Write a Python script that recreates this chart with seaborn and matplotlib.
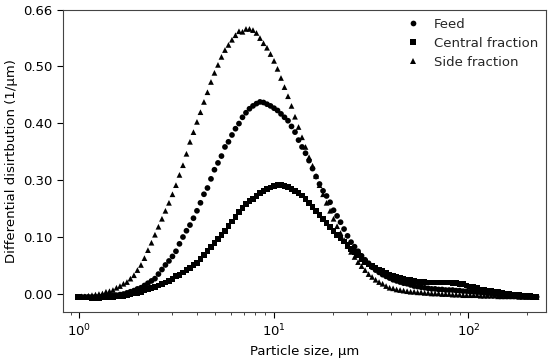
import numpy as np
import pandas as pd
import matplotlib
matplotlib.use("Agg")
import matplotlib.pyplot as plt
import seaborn as sns

# particle size classes, um
SIZES = [0.982, 1.024, 1.067, 1.112, 1.160, 1.209, 1.260, 1.313, 1.369, 1.427,
         1.487, 1.550, 1.616, 1.684, 1.755, 1.829, 1.907, 1.987, 2.072, 2.159,
         2.250, 2.346, 2.445, 2.548, 2.656, 2.768, 2.886, 3.008, 3.135, 3.268,
         3.406, 3.550, 3.700, 3.857, 4.020, 4.190, 4.367, 4.552, 4.745, 4.945,
         5.155, 5.373, 5.600, 5.837, 6.084, 6.342, 6.610, 6.890, 7.181, 7.485,
         7.802, 8.132, 8.476, 8.835, 9.209, 9.600, 10.01, 10.43, 10.87, 11.33,
         11.81, 12.31, 12.83, 13.38, 13.94, 14.53, 15.15, 15.79, 16.46, 17.15,
         17.88, 18.64, 19.43, 20.25, 21.11, 22.00, 22.93, 23.90, 24.91, 25.97,
         27.07, 28.21, 29.41, 30.65, 31.95, 33.30, 34.71, 36.18, 37.71, 39.31,
         40.97, 42.71, 44.51, 46.40, 48.36, 50.41, 52.54, 54.76, 57.08, 59.50,
         62.01, 64.64, 67.37, 70.22, 73.20, 76.29, 79.52, 82.89, 86.40, 90.06,
         93.87, 97.84, 102.0, 106.3, 110.8, 115.5, 120.3, 125.4, 130.8, 136.3,
         142.1, 148.1, 154.3, 160.9, 167.7, 174.8, 182.2, 189.9, 197.9, 206.3,
         215.0, 224.1]

FEED = [-0.005, -0.005, -0.005, -0.005, -0.005, -0.005, -0.005, -0.004, -0.004, -0.004,
        -0.003, -0.002, -0.001, 0.000, 0.002, 0.004, 0.006, 0.009, 0.011, 0.015,
        0.019, 0.023, 0.027, 0.035, 0.043, 0.051, 0.058, 0.066, 0.075, 0.088,
        0.100, 0.111, 0.121, 0.133, 0.146, 0.160, 0.175, 0.186, 0.202, 0.218,
        0.230, 0.242, 0.258, 0.267, 0.279, 0.290, 0.299, 0.310, 0.318, 0.325,
        0.330, 0.334, 0.337, 0.336, 0.333, 0.330, 0.326, 0.322, 0.316, 0.310,
        0.304, 0.294, 0.284, 0.270, 0.258, 0.247, 0.234, 0.220, 0.206, 0.193,
        0.181, 0.172, 0.161, 0.147, 0.137, 0.126, 0.114, 0.102, 0.091, 0.083,
        0.075, 0.067, 0.060, 0.054, 0.047, 0.042, 0.038, 0.034, 0.031, 0.028,
        0.025, 0.023, 0.021, 0.019, 0.018, 0.016, 0.014, 0.013, 0.012, 0.011,
        0.010, 0.009, 0.009, 0.008, 0.008, 0.007, 0.007, 0.007, 0.006, 0.006,
        0.005, 0.005, 0.004, 0.004, 0.003, 0.003, 0.002, 0.001, 0.001, 0.000,
        -0.001, -0.001, -0.002, -0.002, -0.003, -0.003, -0.004, -0.004, -0.005, -0.005,
        -0.005, -0.005]

CENTRAL = [-0.005, -0.006, -0.006, -0.006, -0.007, -0.007, -0.007, -0.006, -0.006, -0.006,
           -0.005, -0.004, -0.003, -0.003, -0.002, -0.001, 0.001, 0.002, 0.004, 0.006,
           0.009, 0.011, 0.012, 0.015, 0.017, 0.020, 0.023, 0.026, 0.031, 0.034,
           0.038, 0.042, 0.046, 0.051, 0.055, 0.061, 0.068, 0.075, 0.082, 0.090,
           0.096, 0.103, 0.111, 0.119, 0.127, 0.135, 0.144, 0.151, 0.158, 0.163,
           0.167, 0.172, 0.177, 0.181, 0.184, 0.187, 0.189, 0.191, 0.191, 0.190,
           0.188, 0.184, 0.181, 0.177, 0.173, 0.167, 0.160, 0.153, 0.146, 0.138,
           0.131, 0.124, 0.118, 0.111, 0.104, 0.098, 0.092, 0.086, 0.079, 0.074,
           0.068, 0.062, 0.056, 0.052, 0.049, 0.046, 0.043, 0.040, 0.037, 0.034,
           0.032, 0.030, 0.028, 0.026, 0.025, 0.024, 0.023, 0.022, 0.021, 0.021,
           0.020, 0.020, 0.020, 0.020, 0.020, 0.020, 0.020, 0.019, 0.019, 0.018,
           0.017, 0.015, 0.013, 0.012, 0.010, 0.008, 0.007, 0.006, 0.005, 0.004,
           0.003, 0.002, 0.001, 0.000, -0.001, -0.001, -0.002, -0.003, -0.004, -0.004,
           -0.005, -0.005]

SIDE = [-0.005, -0.004, -0.004, -0.003, -0.002, -0.001, 0.000, 0.001, 0.004, 0.005,
        0.007, 0.011, 0.014, 0.018, 0.021, 0.027, 0.033, 0.042, 0.051, 0.063,
        0.077, 0.090, 0.104, 0.118, 0.132, 0.146, 0.160, 0.175, 0.191, 0.209,
        0.226, 0.246, 0.267, 0.284, 0.302, 0.319, 0.337, 0.354, 0.372, 0.388,
        0.402, 0.416, 0.428, 0.437, 0.446, 0.454, 0.461, 0.460, 0.465, 0.465,
        0.463, 0.458, 0.449, 0.440, 0.432, 0.421, 0.409, 0.395, 0.379, 0.363,
        0.347, 0.330, 0.311, 0.293, 0.275, 0.258, 0.240, 0.225, 0.207, 0.191,
        0.175, 0.160, 0.146, 0.132, 0.119, 0.107, 0.095, 0.084, 0.074, 0.065,
        0.056, 0.049, 0.042, 0.035, 0.030, 0.025, 0.021, 0.018, 0.014, 0.011,
        0.010, 0.008, 0.007, 0.006, 0.005, 0.004, 0.004, 0.003, 0.003, 0.002,
        0.002, 0.001, 0.001, 0.001, 0.000, 0.000, 0.000, -0.001, -0.001, -0.001,
        -0.002, -0.002, -0.002, -0.002, -0.002, -0.003, -0.003, -0.003, -0.003, -0.003,
        -0.004, -0.004, -0.004, -0.004, -0.004, -0.004, -0.005, -0.005, -0.005, -0.005,
        -0.005, -0.005]

SERIES = ["Feed", "Central fraction", "Side fraction"]
# the y tick labels as printed on the original figure
YTICK_LABELS = ["0.00", "0.10", "0.30", "0.40", "0.50", "0.66"]

# long-form table for seaborn
df = pd.DataFrame({
    "size": SIZES * 3,
    "value": FEED + CENTRAL + SIDE,
    "series": [s for s in SERIES for _ in SIZES],
})

sns.set_style("ticks")

fig = plt.figure(figsize=(5.5, 3.62), dpi=100)
ax = fig.add_axes([0.1145, 0.138, 0.878, 0.834])

sns.scatterplot(data=df, x="size", y="value", style="series", style_order=SERIES,
                markers={"Feed": "o", "Central fraction": "s", "Side fraction": "^"},
                color="black", s=17, linewidth=0, ax=ax)

ax.set_xscale("log")
ax.set_xlim(0.823, 250)
ax.set_ylim(-0.0316, 0.498)
ax.set_yticks([0, 0.1, 0.2, 0.3, 0.4, 0.498])
ax.set_yticklabels(YTICK_LABELS)

ax.set_xlabel("Particle size, µm", fontsize=9.5, color="black")
ax.set_ylabel("Differential disirtbution (1/µm)", fontsize=9.5, color="black")
ax.tick_params(axis="both", which="major", labelsize=9.5, length=4, colors="black")
ax.tick_params(axis="x", which="minor", length=2)

for sp in ax.spines.values():
    sp.set_color("#444444")

leg = ax.legend(frameon=False, loc="upper right", fontsize=9.5, markerscale=1.0,
                handletextpad=0.6, borderaxespad=0.2, labelspacing=0.45)

fig.savefig("out.png", dpi=100)
